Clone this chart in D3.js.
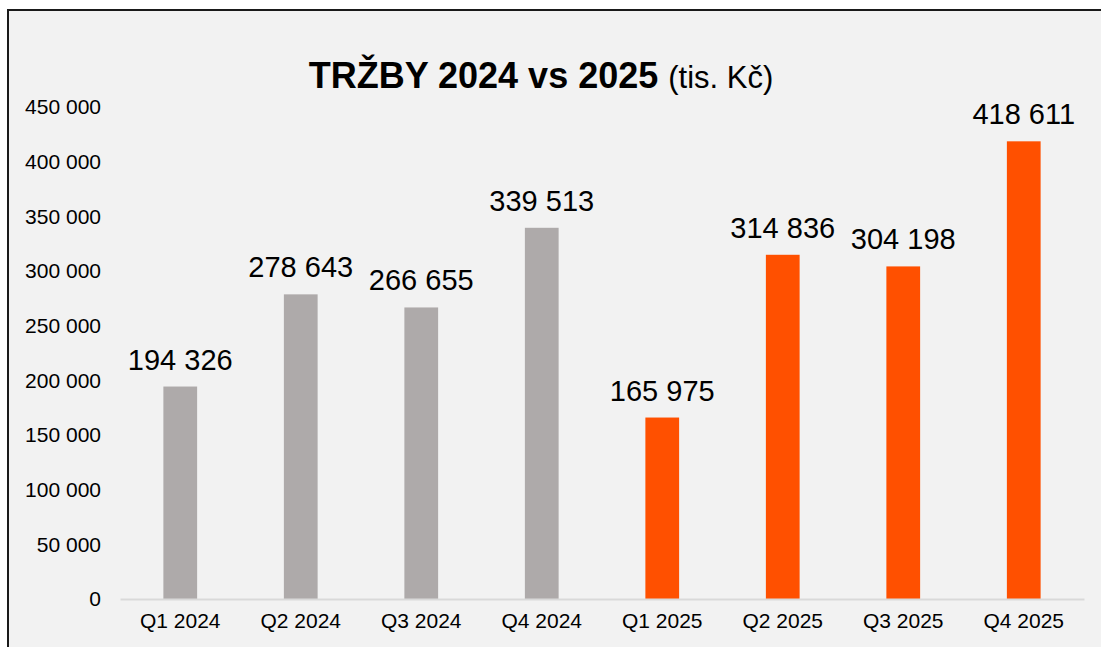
<!DOCTYPE html>
<html>
<head>
<meta charset="utf-8">
<script src="https://cdn.jsdelivr.net/npm/d3@7"></script>
<style>
    body { margin: 0; background: #fff; }
    text { font-family: "Liberation Sans", Arial, sans-serif; fill: #000; }
</style>
</head>
<body>
<div id="chart"></div>
<script>
const categories = ["Q1 2024", "Q2 2024", "Q3 2024", "Q4 2024", "Q1 2025", "Q2 2025", "Q3 2025", "Q4 2025"];
const values = [194326, 278643, 266655, 339513, 165975, 314836, 304198, 418611];
const years = [2024, 2024, 2024, 2024, 2025, 2025, 2025, 2025];
const yTicks = [0, 50000, 100000, 150000, 200000, 250000, 300000, 350000, 400000, 450000];

const W = 1101, H = 647;
const margin = { left: 120, right: 17, top: 107, bottom: 48 };
const colors = { 2024: "#aeaaaa", 2025: "#ff5000" };

// thousands separated by space, as in the Czech original
const fmt = v => d3.format(",")(v).replace(/,/g, " ");

const svg = d3.select("#chart")
    .append("svg")
    .attr("width", W)
    .attr("height", H);

// chart area with border, running off the right and bottom edge
svg.append("rect")
    .attr("x", 8)
    .attr("y", 10)
    .attr("width", W)
    .attr("height", H)
    .attr("fill", "#f2f2f2")
    .attr("stroke", "#1a1a1a")
    .attr("stroke-width", 2);

const x = d3.scaleBand()
    .domain(categories)
    .range([margin.left, W - margin.right])
    .padding(0);

const y = d3.scaleLinear()
    .domain([0, 450000])
    .range([H - margin.bottom, margin.top]);

const barW = x.bandwidth() * 0.28;

// title
const title = svg.append("text")
    .attr("x", 541)
    .attr("y", 88)
    .attr("text-anchor", "middle");
title.append("tspan")
    .attr("font-weight", "bold")
    .attr("font-size", 36)
    .text("TRŽBY 2024 vs 2025 ");
title.append("tspan")
    .attr("font-size", 31)
    .text("(tis. Kč)");

// y axis labels, no line
svg.append("g")
    .selectAll("text")
    .data(yTicks)
    .join("text")
    .attr("x", 101)
    .attr("y", d => y(d))
    .attr("dy", "0.35em")
    .attr("text-anchor", "end")
    .attr("font-size", 21)
    .text(d => fmt(d));

// bars
svg.append("g")
    .selectAll("rect")
    .data(values)
    .join("rect")
    .attr("x", (d, i) => x(categories[i]) + (x.bandwidth() - barW) / 2)
    .attr("y", d => y(d))
    .attr("width", barW)
    .attr("height", d => y(0) - y(d))
    .attr("fill", (d, i) => colors[years[i]]);

// value labels
svg.append("g")
    .selectAll("text")
    .data(values)
    .join("text")
    .attr("x", (d, i) => x(categories[i]) + x.bandwidth() / 2)
    .attr("y", d => y(d) - 17)
    .attr("text-anchor", "middle")
    .attr("font-size", 29)
    .text(d => fmt(d));

// x axis
const xAxis = svg.append("g")
    .attr("transform", `translate(0, ${y(0)})`)
    .call(d3.axisBottom(x).tickSize(0).tickPadding(14));
xAxis.select(".domain").attr("stroke", "#d9d9d9").attr("stroke-width", 2);
xAxis.selectAll("text")
    .attr("font-size", 21)
    .attr("font-family", "Liberation Sans, Arial, sans-serif")
    .attr("fill", "#000");
</script>
</body>
</html>
